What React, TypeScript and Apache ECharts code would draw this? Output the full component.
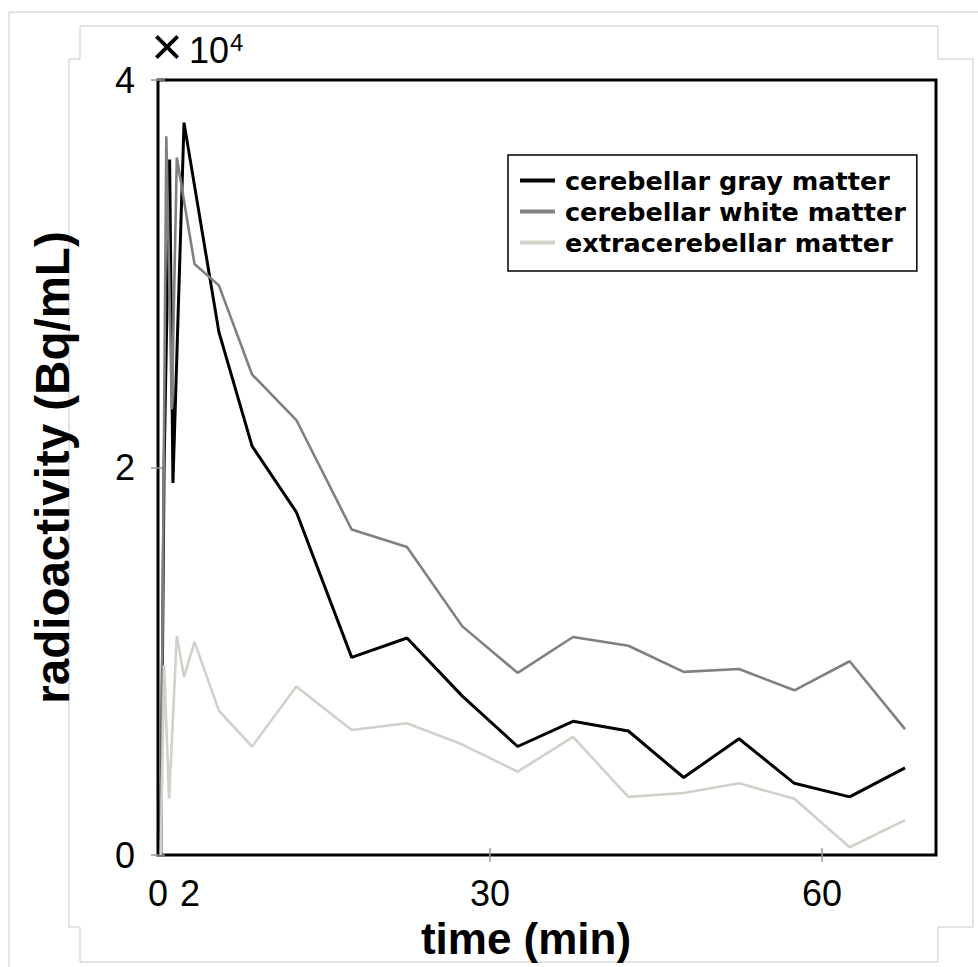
import React, { useEffect, useRef } from "react";
import * as echarts from "echarts";

// Time (min) and radioactivity (×10^4 Bq/mL)
const grayMatterTime = [0.25, 0.55, 1.05, 1.35, 2.35, 5.5, 8.5, 12.5, 17.5, 22.5, 27.5, 32.5, 37.5, 42.5, 47.5, 52.5, 57.5, 62.5, 67.5];
const grayMatterValues = [0, 2.0, 3.59, 1.92, 3.78, 2.7, 2.11, 1.77, 1.02, 1.12, 0.82, 0.56, 0.69, 0.64, 0.4, 0.6, 0.37, 0.3, 0.45];

const whiteMatterTime = [0.25, 0.75, 1.25, 1.7, 3.3, 5.5, 8.5, 12.5, 17.5, 22.5, 27.5, 32.5, 37.5, 42.5, 47.5, 52.5, 57.5, 62.5, 67.5];
const whiteMatterValues = [0, 3.71, 2.3, 3.6, 3.05, 2.94, 2.48, 2.245, 1.68, 1.59, 1.18, 0.94, 1.125, 1.08, 0.945, 0.96, 0.85, 1.0, 0.65];

const extraTime = [0.25, 0.55, 1.0, 1.7, 2.35, 3.3, 5.5, 8.5, 12.5, 17.5, 22.5, 27.5, 32.5, 37.5, 42.5, 47.5, 52.5, 57.5, 62.5, 67.5];
const extraValues = [0, 0.98, 0.29, 1.13, 0.92, 1.1, 0.745, 0.56, 0.87, 0.645, 0.68, 0.57, 0.43, 0.61, 0.3, 0.32, 0.37, 0.29, 0.04, 0.18];

const seriesNames = ["cerebellar gray matter", "cerebellar white matter", "extracerebellar matter"];
const seriesColors = ["#000000", "#808080", "#d3d0ca"];

const xLabelValues = [0, 2.9, 30, 60];
const xLabelTexts = ["0", "2", "30", "60"];
const xTickValues = [30, 60];

const pairs = (t: number[], v: number[]) => t.map((x, i) => [x, v[i]]);

export default function App() {
  const ref = useRef<HTMLDivElement>(null);
  useEffect(() => {
    if (!ref.current) return;
    const chart = echarts.init(ref.current, null, { renderer: "svg" });
    const tickFont = "'Liberation Sans', Arial, sans-serif";
    const frame = "#c8c8c8";
    const option: any = {
      animation: false,
      backgroundColor: "#ffffff",
      grid: {
        left: 158,
        top: 80,
        right: 42,
        bottom: 112,
        show: true,
        borderColor: "#000",
        borderWidth: 3,
        backgroundColor: "transparent",
      },
      legend: {
        orient: "vertical",
        left: 508,
        top: 155,
        data: seriesNames,
        icon: "rect",
        itemWidth: 35,
        itemHeight: 4,
        itemGap: 0,
        borderColor: "#000",
        borderWidth: 1.5,
        padding: [10, 11, 13, 12],
        backgroundColor: "#fff",
        textStyle: {
          fontFamily: "'DejaVu Sans', sans-serif",
          fontWeight: "bold",
          fontSize: 25.5,
          color: "#000",
          lineHeight: 31,
          padding: [0, 0, 0, 5],
        },
      },
      xAxis: [
        {
          type: "value",
          min: 0,
          max: 70.3,
          position: "bottom",
          axisLine: { show: false },
          splitLine: { show: false },
          axisTick: {
            show: true,
            inside: true,
            length: 7,
            customValues: xTickValues,
            lineStyle: { color: "#999", width: 1.5 },
          },
          axisLabel: {
            customValues: xLabelValues,
            formatter: (v: number) => {
              const i = xLabelValues.findIndex((x) => Math.abs(x - v) < 1e-6);
              return i >= 0 ? xLabelTexts[i] : "";
            },
            fontSize: 36,
            fontFamily: tickFont,
            color: "#000",
            margin: 20,
          },
          name: "time (min)",
          nameLocation: "middle",
          nameGap: 61,
          nameTextStyle: {
            fontSize: 44,
            fontWeight: "bold",
            fontFamily: tickFont,
            color: "#000",
            padding: [0, 42, 0, 0],
          },
        },
        {
          type: "value",
          min: 0,
          max: 70.3,
          position: "top",
          axisLine: { show: false },
          splitLine: { show: false },
          axisLabel: { show: false },
          axisTick: {
            show: true,
            inside: true,
            length: 7,
            customValues: xTickValues,
            lineStyle: { color: "#999", width: 1.5 },
          },
        },
      ],
      yAxis: [
        {
          type: "value",
          min: 0,
          max: 4,
          interval: 2,
          position: "left",
          axisLine: { show: false },
          splitLine: { show: false },
          axisTick: { show: true, inside: true, length: 7, lineStyle: { color: "#999", width: 1.5 } },
          axisLabel: { fontSize: 36, fontFamily: tickFont, color: "#000", margin: 23 },
          name: "radioactivity (Bq/mL)",
          nameLocation: "middle",
          nameGap: 82,
          nameTextStyle: { fontSize: 47.5, fontWeight: "bold", fontFamily: tickFont, color: "#000" },
        },
        {
          type: "value",
          min: 0,
          max: 4,
          interval: 2,
          position: "right",
          axisLine: { show: false },
          splitLine: { show: false },
          axisLabel: { show: false },
          axisTick: { show: true, inside: true, length: 7, lineStyle: { color: "#999", width: 1.5 } },
        },
      ],
      series: [
        {
          name: seriesNames[0],
          type: "line",
          data: pairs(grayMatterTime, grayMatterValues),
          symbol: "none",
          color: seriesColors[0],
          lineStyle: { color: seriesColors[0], width: 3 },
        },
        {
          name: seriesNames[1],
          type: "line",
          data: pairs(whiteMatterTime, whiteMatterValues),
          symbol: "none",
          color: seriesColors[1],
          lineStyle: { color: seriesColors[1], width: 2.6 },
        },
        {
          name: seriesNames[2],
          type: "line",
          data: pairs(extraTime, extraValues),
          symbol: "none",
          color: seriesColors[2],
          lineStyle: { color: seriesColors[2], width: 2.6 },
        },
      ],
      graphic: [
        {
          type: "polyline",
          silent: true,
          z: -10,
          shape: {
            points: [
              [80, 962], [80, 927], [69, 927], [69, 59], [80, 59], [80, 26], [938, 26], [938, 59],
              [973, 59], [973, 927], [938, 927], [938, 962], [80, 962],
            ],
          },
          style: { stroke: frame, lineWidth: 1, fill: null },
        },
        {
          type: "polyline",
          silent: true,
          z: -10,
          shape: { points: [[9, 967], [9, 12], [978, 12]] },
          style: { stroke: frame, lineWidth: 1, fill: null },
        },
        {
          type: "text",
          x: 167,
          y: 46,
          style: {
            text: "×",
            fontSize: 54,
            fontFamily: tickFont,
            fill: "#000",
            verticalAlign: "middle",
            align: "center",
          },
        },
        {
          type: "text",
          x: 189,
          y: 50,
          style: {
            text: "10",
            fontSize: 36,
            fontFamily: tickFont,
            fill: "#000",
            verticalAlign: "middle",
            align: "left",
          },
        },
        {
          type: "text",
          x: 230,
          y: 42,
          style: {
            text: "4",
            fontSize: 24,
            fontFamily: tickFont,
            fill: "#000",
            verticalAlign: "middle",
            align: "left",
          },
        },
      ],
    };
    chart.setOption(option);
    return () => chart.dispose();
  }, []);
  return (
    <div
      ref={ref}
      style={{ position: "fixed", left: 0, top: 0, width: 978, height: 967, background: "#fff" }}
    />
  );
}
